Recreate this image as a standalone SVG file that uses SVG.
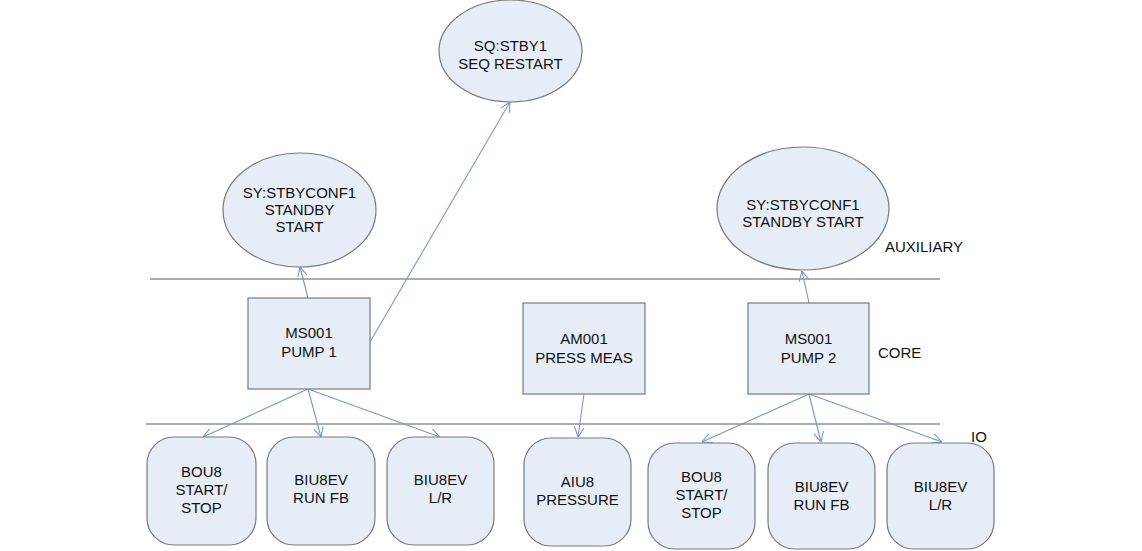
<svg xmlns="http://www.w3.org/2000/svg" width="1142" height="551" viewBox="0 0 1142 551">
<style>
.n{fill:#e7edf6;stroke:#7a7a7a;stroke-width:1.2}
.t{font-family:"Liberation Sans",Arial,sans-serif;font-size:15px;fill:#111;text-anchor:middle}
.l{font-family:"Liberation Sans",Arial,sans-serif;font-size:15px;fill:#111}
.c{stroke:#7597d2;stroke-width:1.1;fill:none}
.h{stroke:#5a5a5a;stroke-width:1.1}
</style>
<defs>
<marker id="ah" viewBox="0 0 10 10" refX="10" refY="5" markerWidth="10" markerHeight="10" markerUnits="userSpaceOnUse" orient="auto">
<path d="M0,0 L10,5 L0,10" fill="none" stroke="#7597d2" stroke-width="1.1"/>
</marker>
</defs>
<rect width="1142" height="551" fill="#fff"/>
<g id="separators">
<line class="h" x1="150" y1="279" x2="940" y2="279"/>
<line class="h" x1="146" y1="424" x2="940" y2="424"/>
</g>
<g id="layer-labels">
<text class="l" x="885" y="252">AUXILIARY</text>
<text class="l" x="878" y="358">CORE</text>
<text class="l" x="971" y="442">IO</text>
</g>
<g id="connectors">
<line class="c" x1="308" y1="298" x2="300" y2="267" marker-end="url(#ah)"/>
<line class="c" x1="370" y1="342" x2="510" y2="102" marker-end="url(#ah)"/>
<line class="c" x1="809" y1="303" x2="802" y2="271" marker-end="url(#ah)"/>
<line class="c" x1="308" y1="389" x2="203" y2="437" marker-end="url(#ah)"/>
<line class="c" x1="308" y1="389" x2="321" y2="437" marker-end="url(#ah)"/>
<line class="c" x1="308" y1="389" x2="440" y2="437" marker-end="url(#ah)"/>
<line class="c" x1="584" y1="394" x2="578" y2="437" marker-end="url(#ah)"/>
<line class="c" x1="809" y1="394" x2="702" y2="442" marker-end="url(#ah)"/>
<line class="c" x1="809" y1="394" x2="821" y2="442" marker-end="url(#ah)"/>
<line class="c" x1="809" y1="394" x2="942" y2="442" marker-end="url(#ah)"/>
</g>
<g id="aux-standby-1">
<ellipse class="n" cx="299.5" cy="210" rx="76.5" ry="57"/>
<text class="t" x="299.5" y="197.5">SY:STBYCONF1</text>
<text class="t" x="299.5" y="214.5">STANDBY</text>
<text class="t" x="299.5" y="231.5">START</text>
</g>
<g id="aux-seq-restart">
<ellipse class="n" cx="510.5" cy="51" rx="71.5" ry="51"/>
<text class="t" x="510.5" y="51">SQ:STBY1</text>
<text class="t" x="510.5" y="68.5">SEQ RESTART</text>
</g>
<g id="aux-standby-2">
<ellipse class="n" cx="803" cy="208.5" rx="86" ry="61.5"/>
<text class="t" x="803" y="210">SY:STBYCONF1</text>
<text class="t" x="803" y="226.5">STANDBY START</text>
</g>
<g id="core-pump1">
<rect class="n" x="248" y="298" width="122" height="91"/>
<text class="t" x="309" y="338">MS001</text>
<text class="t" x="309" y="357">PUMP 1</text>
</g>
<g id="core-press">
<rect class="n" x="523" y="303" width="122" height="91"/>
<text class="t" x="584" y="344">AM001</text>
<text class="t" x="584" y="363">PRESS MEAS</text>
</g>
<g id="core-pump2">
<rect class="n" x="748" y="303" width="121" height="91"/>
<text class="t" x="808.5" y="344">MS001</text>
<text class="t" x="808.5" y="363">PUMP 2</text>
</g>
<g id="io-bou8-1">
<rect class="n" x="147" y="437" width="109" height="108" rx="27"/>
<text class="t" x="201.5" y="477">BOU8</text>
<text class="t" x="201.5" y="495">START/</text>
<text class="t" x="201.5" y="513">STOP</text>
</g>
<g id="io-biu8ev-run-1">
<rect class="n" x="267" y="437" width="108" height="108" rx="27"/>
<text class="t" x="321" y="485">BIU8EV</text>
<text class="t" x="321" y="503">RUN FB</text>
</g>
<g id="io-biu8ev-lr-1">
<rect class="n" x="387" y="437" width="107" height="108" rx="27"/>
<text class="t" x="440.5" y="485">BIU8EV</text>
<text class="t" x="440.5" y="503">L/R</text>
</g>
<g id="io-aiu8">
<rect class="n" x="524" y="438" width="107" height="108" rx="27"/>
<text class="t" x="577.5" y="487">AIU8</text>
<text class="t" x="577.5" y="504.5">PRESSURE</text>
</g>
<g id="io-bou8-2">
<rect class="n" x="648" y="443" width="107" height="106" rx="27"/>
<text class="t" x="701.5" y="482">BOU8</text>
<text class="t" x="701.5" y="500">START/</text>
<text class="t" x="701.5" y="517.5">STOP</text>
</g>
<g id="io-biu8ev-run-2">
<rect class="n" x="768" y="443" width="107" height="106" rx="27"/>
<text class="t" x="821.5" y="492">BIU8EV</text>
<text class="t" x="821.5" y="510">RUN FB</text>
</g>
<g id="io-biu8ev-lr-2">
<rect class="n" x="887" y="443" width="107" height="106" rx="27"/>
<text class="t" x="940.5" y="492">BIU8EV</text>
<text class="t" x="940.5" y="510">L/R</text>
</g>
</svg>
